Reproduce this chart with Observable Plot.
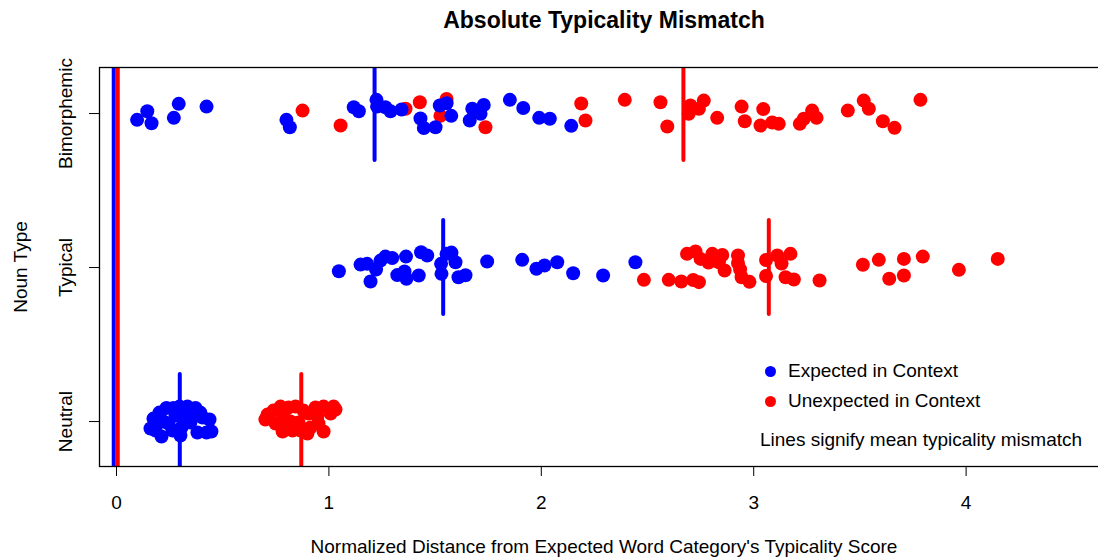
<!DOCTYPE html>
<html>
<head>
<meta charset="utf-8">
<script src="https://cdn.jsdelivr.net/npm/d3@7"></script>
<script src="https://cdn.jsdelivr.net/npm/@observablehq/plot@0.6"></script>
<style>
  html, body { margin: 0; padding: 0; background: #fff; overflow: hidden; }
  #wrap { position: relative; width: 1098px; height: 557px; overflow: hidden; font-family: "Liberation Sans", Arial, sans-serif; }
  #title { position: absolute; left: 604px; top: 0; height: 40px; line-height: 40px; transform: translateX(-50%); white-space: nowrap; font-weight: bold; font-size: 23px; color: #000; }
  #chart { position: absolute; left: 0; top: 40px; }
  #xlabel { position: absolute; left: 604px; top: 536px; height: 22px; line-height: 22px; transform: translateX(-50%); white-space: nowrap; font-size: 19px; color: #000; }
  .leg { position: absolute; font-size: 19px; line-height: 22px; height: 22px; white-space: nowrap; color: #000; }
  .leg .dot { position: absolute; width: 11px; height: 11px; border-radius: 50%; }
</style>
</head>
<body>
<div id="wrap">
  <div id="title">Absolute Typicality Mismatch</div>
  <div id="chart"></div>
  <div id="xlabel">Normalized Distance from Expected Word Category's Typicality Score</div>
  <div id="legend"></div>
</div>
<script>
// ---- data ----
const categories = ["Neutral", "Typical", "Bimorphemic"];
const groups = ["Expected in Context", "Unexpected in Context"];
const colors = ["#0000FF", "#FF0000"];
const legendNote = "Lines signify mean typicality mismatch";
const xTicks = [0, 1, 2, 3, 4];

// Neutral
const neutralExpX = [0.160,0.174,0.184,0.212,0.202,0.235,0.268,0.297,0.334,0.372,0.395,0.278,0.245,0.264,0.306,0.325,0.348,0.372,0.405,0.438,0.381,0.424,0.447,0.301,0.221,0.339];
const neutralExpJ = [-0.045,0.019,-0.058,-0.097,0.058,0.088,0.088,0.097,0.097,0.088,0.058,0.039,-0.013,-0.058,-0.039,0.026,-0.006,0.039,0.026,0.013,-0.071,-0.071,-0.065,-0.091,0.000,0.071];
const neutralUnexpX = [0.701,0.711,0.739,0.772,0.810,0.843,0.786,0.749,0.782,0.829,0.866,0.899,0.857,0.904,0.937,0.975,1.022,1.031,1.008,0.951,0.975,0.913,0.819,0.880,0.946,0.805];
const neutralUnexpJ = [0.013,0.045,0.071,0.097,0.091,0.097,0.039,-0.013,-0.065,-0.058,-0.058,-0.078,-0.006,0.052,0.091,0.097,0.097,0.078,0.052,-0.013,-0.065,-0.039,0.000,0.071,0.032,-0.019];

// Typical
const typicalExpX = [1.047,1.149,1.180,1.196,1.222,1.243,1.266,1.298,1.322,1.356,1.363,1.365,1.423,1.434,1.463,1.528,1.530,1.554,1.577,1.596,1.610,1.643,1.745,1.910,1.977,2.015,2.075,2.150,2.291,2.443];
const typicalExpJ = [-0.024,0.019,0.024,-0.091,-0.013,0.045,0.071,0.062,-0.049,-0.026,0.071,-0.073,-0.052,0.099,0.078,0.024,-0.041,0.089,0.097,0.034,-0.063,-0.050,0.039,0.050,-0.008,0.013,0.034,-0.037,-0.052,0.034];
const typicalUnexpX = [2.483,2.600,2.659,2.715,2.742,2.686,2.726,2.750,2.787,2.805,2.852,2.863,2.836,2.926,2.926,2.936,2.943,2.980,3.058,3.058,3.111,3.131,3.173,3.150,3.189,3.310,3.514,3.589,3.707,3.707,3.638,3.796,3.966,4.149];
const typicalUnexpJ = [-0.080,-0.080,-0.091,-0.081,-0.095,0.089,0.104,0.056,0.032,0.089,0.081,-0.019,0.034,0.078,0.029,-0.013,-0.063,-0.093,0.049,-0.055,0.078,0.026,0.089,-0.063,-0.078,-0.084,0.018,0.050,0.056,-0.052,-0.073,0.071,-0.015,0.056];

// Bimorphemic
const bimoExpX = [0.097,0.145,0.165,0.270,0.293,0.424,0.800,0.816,1.117,1.141,1.224,1.227,1.266,1.290,1.342,1.431,1.447,1.502,1.522,1.554,1.576,1.663,1.675,1.714,1.729,1.852,1.915,1.990,2.040,2.141];
const bimoExpJ = [-0.041,0.015,-0.063,-0.028,0.063,0.045,-0.041,-0.089,0.041,0.015,0.089,0.045,0.041,0.015,0.026,-0.032,-0.094,-0.089,0.052,0.067,-0.015,-0.045,0.031,-0.002,0.055,0.089,0.036,-0.028,-0.034,-0.080];
const bimoUnexpX = [0.876,1.055,1.361,1.428,1.525,1.554,1.737,2.188,2.208,2.393,2.561,2.593,2.694,2.702,2.742,2.765,2.828,2.943,2.958,3.045,3.032,3.087,3.118,3.217,3.236,3.275,3.296,3.443,3.518,3.542,3.608,3.663,3.785];
const bimoUnexpJ = [0.019,-0.078,0.031,0.073,-0.015,0.094,-0.089,0.065,-0.045,0.089,0.073,-0.084,-0.002,0.052,0.031,0.084,-0.028,0.045,-0.050,0.029,-0.078,-0.058,-0.067,-0.067,-0.034,0.019,-0.028,0.019,0.084,0.031,-0.050,-0.093,0.089];

// Means (Neutral, Typical, Bimorphemic)
const meanExp = [0.298, 1.538, 1.215];
const meanUnexp = [0.870, 3.071, 2.669];
// Reference lines near zero
const zeroLines = [-0.013, 0.006];

// ---- build tables ----
const series = [
  [0, 0, neutralExpX, neutralExpJ], [0, 1, neutralUnexpX, neutralUnexpJ],
  [1, 0, typicalExpX, typicalExpJ], [1, 1, typicalUnexpX, typicalUnexpJ],
  [2, 0, bimoExpX, bimoExpJ], [2, 1, bimoUnexpX, bimoUnexpJ]
];
const points = [];
for (const [ci, gi, xs, js] of series) {
  xs.forEach((x, i) => points.push({x, y: ci + 1 + js[i], group: groups[gi], gi}));
}
const meanRows = [];
categories.forEach((c, ci) => {
  meanRows.push({x: meanExp[ci], y: ci + 1, gi: 0});
  meanRows.push({x: meanUnexp[ci], y: ci + 1, gi: 1});
});
const zeroRows = zeroLines.map((x, gi) => ({x, gi}));
const halfLen = 0.305;

const plot = Plot.plot({
  width: 1120,
  height: 480,
  marginLeft: 99,
  marginRight: 11,
  marginTop: 27,
  marginBottom: 54,
  style: {fontFamily: "'Liberation Sans', Arial, sans-serif", fontSize: "19px", color: "#000", background: "#fff", maxWidth: "none", overflow: "hidden"},
  x: {domain: [-0.080, 4.675]},
  y: {domain: [0.708, 3.299]},
  marks: [
    Plot.axisX({ticks: xTicks, tickFormat: d => String(d), tickSize: 10, tickPadding: 19, label: null, fontSize: 19}),
    Plot.axisY({ticks: [1, 2, 3], tickFormat: d => categories[d - 1], tickSize: 10, tickPadding: 18, tickRotate: -90, label: "Noun Type", labelAnchor: "center", labelOffset: 86, labelArrow: "none", fontSize: 19}),
    Plot.ruleX(zeroRows, {x: "x", stroke: d => colors[d.gi], strokeWidth: 4}),
    Plot.dot(points.filter(d => d.gi === 1), {x: "x", y: "y", r: 7, fill: colors[1], stroke: "none"}),
    Plot.dot(points.filter(d => d.gi === 0), {x: "x", y: "y", r: 7, fill: colors[0], stroke: "none"}),
    Plot.ruleX(meanRows, {x: "x", y1: d => d.y - halfLen, y2: d => d.y + halfLen, stroke: d => colors[d.gi], strokeWidth: 4, strokeLinecap: "round", clip: true}),
    Plot.frame({stroke: "#000", strokeWidth: 1.3})
  ]
});
plot.style.maxWidth = "none";
document.getElementById("chart").appendChild(plot);

// ---- legend ----
const legend = document.getElementById("legend");
groups.forEach((g, i) => {
  const row = document.createElement("div");
  row.className = "leg";
  row.style.left = "788px";
  row.style.top = (360 + i * 30) + "px";
  row.textContent = g;
  const dot = document.createElement("span");
  dot.className = "dot";
  dot.style.background = colors[i];
  dot.style.left = "-23.5px";
  dot.style.top = "5.5px";
  row.appendChild(dot);
  legend.appendChild(row);
});
const note = document.createElement("div");
note.className = "leg";
note.style.left = "760px";
note.style.top = "429px";
note.textContent = legendNote;
legend.appendChild(note);
</script>
</body>
</html>
